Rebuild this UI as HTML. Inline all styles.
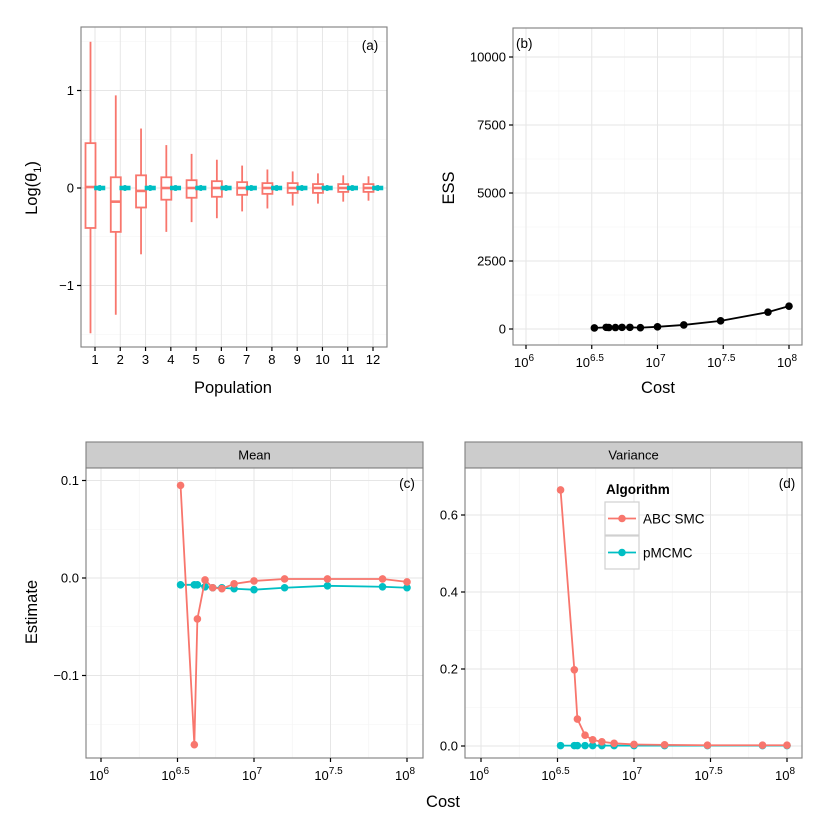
<!DOCTYPE html>
<html><head><meta charset="utf-8"><style>
body{margin:0;background:#fff}
svg{display:block;font-family:"Liberation Sans",sans-serif}
</style></head><body>
<svg id="c" width="830" height="830" xmlns="http://www.w3.org/2000/svg"></svg>
<script>
// Panel (a) data
const populations=[1,2,3,4,5,6,7,8,9,10,11,12];
const abcLow=[-1.49,-1.3,-0.68,-0.45,-0.35,-0.31,-0.24,-0.21,-0.18,-0.16,-0.14,-0.13];
const abcQ1=[-0.41,-0.45,-0.2,-0.12,-0.1,-0.09,-0.07,-0.06,-0.05,-0.05,-0.04,-0.04];
const abcMed=[0.01,-0.14,-0.03,0,0,0,0,0,0,0,0,0];
const abcQ3=[0.46,0.11,0.13,0.11,0.08,0.07,0.06,0.05,0.05,0.04,0.04,0.04];
const abcHigh=[1.5,0.95,0.61,0.44,0.35,0.29,0.23,0.19,0.17,0.15,0.13,0.12];
const pmLow=[-0.03,-0.03,-0.03,-0.03,-0.03,-0.03,-0.03,-0.03,-0.03,-0.03,-0.03,-0.03];
const pmQ1=[-0.01,-0.01,-0.01,-0.01,-0.01,-0.01,-0.01,-0.01,-0.01,-0.01,-0.01,-0.01];
const pmMed=[0,0,0,0,0,0,0,0,0,0,0,0];
const pmQ3=[0.01,0.01,0.01,0.01,0.01,0.01,0.01,0.01,0.01,0.01,0.01,0.01];
const pmHigh=[0.03,0.03,0.03,0.03,0.03,0.03,0.03,0.03,0.03,0.03,0.03,0.03];
// Cost (log10) shared by b, c, d
const logCost=[6.52,6.61,6.63,6.68,6.73,6.79,6.87,7.0,7.2,7.48,7.84,8.0];
const essValues=[40,60,55,55,60,60,50,80,150,300,620,840];
const meanABC=[0.095,-0.171,-0.042,-0.002,-0.010,-0.011,-0.006,-0.003,-0.001,-0.001,-0.001,-0.004];
const meanPM=[-0.007,-0.007,-0.007,-0.009,-0.010,-0.010,-0.011,-0.012,-0.010,-0.008,-0.009,-0.010];
const varABC=[0.665,0.198,0.07,0.028,0.016,0.011,0.007,0.004,0.003,0.002,0.002,0.002];
const varPM=[0.001,0.001,0.001,0.001,0.001,0.001,0.001,0.001,0.001,0.001,0.001,0.001];
const costTicks=[6,6.5,7,7.5,8];
const costTickSup=["6","6.5","7","7.5","8"];
const aTicks=[-1,0,1];
const aTickLabels=["\u22121","0","1"];
const essTicks=[0,2500,5000,7500,10000];
const essTickLabels=["0","2500","5000","7500","10000"];
const meanTicks=[-0.1,0,0.1];
const meanTickLabels=["\u22120.1","0.0","0.1"];
const varTicks=[0,0.2,0.4,0.6];
const varTickLabels=["0.0","0.2","0.4","0.6"];

const RED="#F8766D",TEAL="#00BFC4";
const svg=document.getElementById('c');
const NS="http://www.w3.org/2000/svg";
function el(tag,attrs,parent){const e=document.createElementNS(NS,tag);for(const k in attrs)e.setAttribute(k,attrs[k]);(parent||svg).appendChild(e);return e;}
function lin(d0,d1,r0,r1){return v=>r0+(v-d0)*(r1-r0)/(d1-d0);}

function panel(name,L,T,R,B,xs,ys,xMaj,xMin,yMaj,yMin){
  const g=el('g',{});
  
  
  el('rect',{x:L,y:T,width:R-L,height:B-T,fill:'#fff'},g);
  yMin.forEach(v=>el('line',{x1:L,x2:R,y1:ys(v),y2:ys(v),stroke:'#f3f3f3','stroke-width':0.6},g));
  xMin.forEach(v=>el('line',{y1:T,y2:B,x1:xs(v),x2:xs(v),stroke:'#f3f3f3','stroke-width':0.6},g));
  yMaj.forEach(v=>el('line',{x1:L,x2:R,y1:ys(v),y2:ys(v),stroke:'#e6e6e6','stroke-width':1},g));
  xMaj.forEach(v=>el('line',{y1:T,y2:B,x1:xs(v),x2:xs(v),stroke:'#e6e6e6','stroke-width':1},g));
  return g;
}
function frame(L,T,R,B){el('rect',{x:L,y:T,width:R-L,height:B-T,fill:'none',stroke:'#7f7f7f','stroke-width':1.1});}
function yAxis(L,ys,ticks,labels,name){
  const g=el('g',{});
  ticks.forEach((v,i)=>{el('line',{x1:L-4,x2:L,y1:ys(v),y2:ys(v),stroke:'#000','stroke-width':1.2},g);
    const t=el('text',{x:L-7,y:ys(v)+4.5,'text-anchor':'end','font-size':13},g);t.textContent=labels[i];});
}
function xCostAxis(B,xs,name){
  const g=el('g',{});
  costTicks.forEach((v,i)=>{el('line',{x1:xs(v),x2:xs(v),y1:B,y2:B+4,stroke:'#000','stroke-width':1.2},g);
    const t=el('text',{x:xs(v)-2,y:B+22,'text-anchor':'middle','font-size':13},g);
    const a=el('tspan',{},t);a.textContent='10';
    const s=el('tspan',{dy:-6,'font-size':10},t);s.textContent=costTickSup[i];});
}
function text(x,y,str,size,name,extra){const t=el('text',Object.assign({x:x,y:y,'font-size':size},extra||{}));t.textContent=str;return t;}
function series(xs,ys,xv,yv,color,r,name){
  const g=el('g',{});
  el('polyline',{points:xv.map((x,i)=>xs(x)+','+ys(yv[i])).join(' '),fill:'none',stroke:color,'stroke-width':1.8},g);
  xv.forEach((x,i)=>{const c=el('circle',{cx:xs(x),cy:ys(yv[i]),r:r,fill:color},g);});
}

// ---------- Panel (a)
{
const L=81,T=27,R=387,B=347;
const xs=lin(1,12,95,373), ys=lin(0,1,188,90.5);
panel('panel-a',L,T,R,B,xs,ys,populations,[],aTicks,[-1.5,-0.5,0.5,1.5]);
const drawBox=(p,lo,q1,me,q3,hi,color,off,w,sw,nm)=>{
  const g=el('g',{});
  const cx=xs(p)+off;
  el('line',{x1:cx,x2:cx,y1:ys(hi),y2:ys(q3),stroke:color,'stroke-width':sw},g);
  el('line',{x1:cx,x2:cx,y1:ys(q1),y2:ys(lo),stroke:color,'stroke-width':sw},g);
  el('rect',{x:cx-w/2,y:ys(q3),width:w,height:Math.max(ys(q1)-ys(q3),0.5),fill:'#fff',stroke:color,'stroke-width':sw},g);
  el('line',{x1:cx-w/2,x2:cx+w/2,y1:ys(me),y2:ys(me),stroke:color,'stroke-width':sw+0.8},g);
};
populations.forEach((p,i)=>{
  drawBox(p,abcLow[i],abcQ1[i],abcMed[i],abcQ3[i],abcHigh[i],RED,-4.5,10,1.8,'abc-box-'+p);
  drawBox(p,pmLow[i],pmQ1[i],pmMed[i],pmQ3[i],pmHigh[i],TEAL,4.7,8.5,2.6,'pmcmc-box-'+p);
});
frame(L,T,R,B);
yAxis(L,ys,aTicks,aTickLabels,'y-axis-a');
const gx=el('g',{});
populations.forEach(p=>{el('line',{x1:xs(p),x2:xs(p),y1:B,y2:B+4,stroke:'#000','stroke-width':1.2},gx);
  const t=el('text',{x:xs(p),y:B+17,'text-anchor':'middle','font-size':13},gx);t.textContent=p;});
text(370,50,'(a)',13.5,'panel-label-a',{'text-anchor':'middle'});
text(233,393,'Population',16.5,'x-axis-title-a',{'text-anchor':'middle'});
const yt=text(0,0,'',16.5,'y-axis-title-a',{'text-anchor':'middle',transform:'translate(37,188) rotate(-90)'});
const a=el('tspan',{},yt);a.textContent='Log(θ';
const b=el('tspan',{dy:4,'font-size':11},yt);b.textContent='1';
const c=el('tspan',{dy:-4},yt);c.textContent=')';
}
// ---------- Panel (b)
{
const L=513,T=28,R=802,B=345;
const xs=lin(6,8,526,789), ys=lin(0,10000,329,57);
panel('panel-b',L,T,R,B,xs,ys,costTicks,[6.25,6.75,7.25,7.75],essTicks,[1250,3750,6250,8750]);
series(xs,ys,logCost,essValues,'#000',3.8,'ess-series');
frame(L,T,R,B);
yAxis(L,ys,essTicks,essTickLabels,'y-axis-b');
xCostAxis(B,xs,'x-axis-b');
text(516,48,'(b)',13.5,'panel-label-b');
text(658,393,'Cost',16.5,'x-axis-title-b',{'text-anchor':'middle'});
text(0,0,'ESS',16.5,'y-axis-title-b',{'text-anchor':'middle',transform:'translate(454,188) rotate(-90)'});
}
// ---------- Panel (c)
{
const L=86,T=468,R=423,B=758;
const xs=lin(6,8,101,407), ys=lin(0,0.1,578,480.5);
el('rect',{x:L,y:442,width:R-L,height:26,fill:'#cccccc',stroke:'#7f7f7f','stroke-width':1.1});
text((L+R)/2,459.5,'Mean',13,'strip-label-mean',{'text-anchor':'middle'});
panel('panel-c',L,T,R,B,xs,ys,costTicks,[6.25,6.75,7.25,7.75],meanTicks,[-0.15,-0.05,0.05]);
series(xs,ys,logCost,meanPM,TEAL,3.8,'mean-pmcmc-series');
series(xs,ys,logCost,meanABC,RED,3.8,'mean-abc-series');
frame(L,T,R,B);
yAxis(L,ys,meanTicks,meanTickLabels,'y-axis-c');
xCostAxis(B,xs,'x-axis-c');
text(407,488,'(c)',13.5,'panel-label-c',{'text-anchor':'middle'});
text(0,0,'Estimate',16.5,'y-axis-title-c',{'text-anchor':'middle',transform:'translate(37,612) rotate(-90)'});
}
// ---------- Panel (d)
{
const L=465,T=468,R=802,B=758;
const xs=lin(6,8,481,787), ys=lin(0,0.6,746,515);
el('rect',{x:L,y:442,width:R-L,height:26,fill:'#cccccc',stroke:'#7f7f7f','stroke-width':1.1});
text((L+R)/2,459.5,'Variance',13,'strip-label-variance',{'text-anchor':'middle'});
panel('panel-d',L,T,R,B,xs,ys,costTicks,[6.25,6.75,7.25,7.75],varTicks,[0.1,0.3,0.5]);
series(xs,ys,logCost,varPM,TEAL,3.8,'var-pmcmc-series');
series(xs,ys,logCost,varABC,RED,3.8,'var-abc-series');
frame(L,T,R,B);
yAxis(L,ys,varTicks,varTickLabels,'y-axis-d');
xCostAxis(B,xs,'x-axis-d');
text(787,488,'(d)',13.5,'panel-label-d',{'text-anchor':'middle'});
// legend
const lg=el('g',{});
const tt=el('text',{x:606,y:494,'font-size':13.5,'font-weight':'bold'},lg);tt.textContent='Algorithm';
[[RED,'ABC SMC',502],[TEAL,'pMCMC',536]].forEach(([col,lab,y])=>{
  const e=el('g',{},lg);
  el('rect',{x:605,y:y,width:34,height:33,fill:'#fff',stroke:'#d0d0d0','stroke-width':1.2},e);
  el('line',{x1:608,x2:636,y1:y+16.5,y2:y+16.5,stroke:col,'stroke-width':1.8},e);
  el('circle',{cx:622,cy:y+16.5,r:3.8,fill:col},e);
  const t=el('text',{x:643,y:y+21.5,'font-size':13.5},e);t.textContent=lab;
});
}
text(443,807,'Cost',16.5,'x-axis-title-bottom',{'text-anchor':'middle'});
</script>
</body></html>
